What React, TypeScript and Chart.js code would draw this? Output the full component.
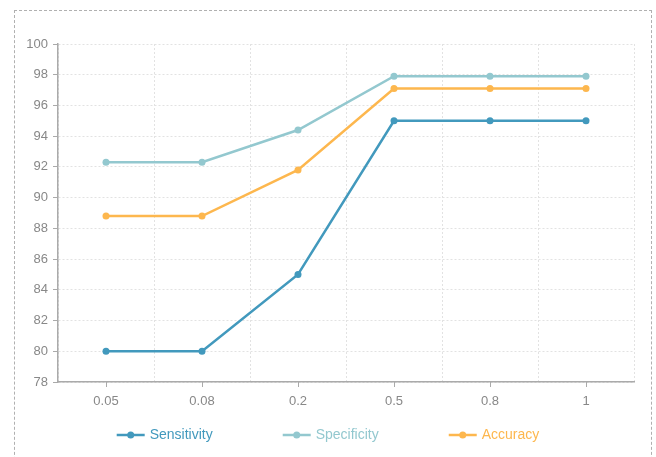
import React, { useEffect, useRef } from "react";
import { Chart, registerables } from "chart.js";

Chart.register(...registerables);

const categories = ["0.05", "0.08", "0.2", "0.5", "0.8", "1"];
const sensitivity = [80, 80, 85, 95, 95, 95];
const specificity = [92.3, 92.3, 94.4, 97.9, 97.9, 97.9];
const accuracy = [88.8, 88.8, 91.8, 97.1, 97.1, 97.1];
const seriesNames = ["Sensitivity", "Specificity", "Accuracy"];
const seriesColors = ["#4299bd", "#93c8cf", "#fdb74e"];

const FONT = "'Liberation Sans', Arial, sans-serif";

const customPlugin = {
  id: "customDecor",
  afterDraw(chart: any) {
    const ctx = chart.ctx;
    const xScale = chart.scales.x;
    ctx.save();
    ctx.strokeStyle = "#aaaaaa";
    ctx.lineWidth = 1;
    for (let i = 0; i < categories.length; i++) {
      const x = Math.round(xScale.getPixelForValue(i)) + 0.5;
      ctx.beginPath();
      ctx.moveTo(x, xScale.top);
      ctx.lineTo(x, xScale.top + 5);
      ctx.stroke();
    }
    ctx.restore();

    const lineW = 28;
    const gapText = 5;
    const gapItem = 70;
    ctx.save();
    ctx.font = "14px " + FONT;
    const ds = chart.data.datasets;
    const widths = ds.map((d: any) => lineW + gapText + ctx.measureText(d.label).width);
    const total = widths.reduce((a: number, b: number) => a + b, 0) + gapItem * (ds.length - 1);
    let x = (chart.width - total) / 2;
    const y = 435;
    ds.forEach((d: any, i: number) => {
      const c = d.borderColor;
      ctx.strokeStyle = c;
      ctx.fillStyle = c;
      ctx.lineWidth = 2.5;
      ctx.beginPath();
      ctx.moveTo(x, y);
      ctx.lineTo(x + lineW, y);
      ctx.stroke();
      ctx.beginPath();
      ctx.arc(x + lineW / 2, y, 3.5, 0, Math.PI * 2);
      ctx.fill();
      ctx.textBaseline = "middle";
      ctx.textAlign = "left";
      ctx.fillText(d.label, x + lineW + gapText, y);
      x += widths[i] + gapItem;
    });
    ctx.restore();
  },
};

export default function App() {
  const ref = useRef<HTMLCanvasElement>(null);
  useEffect(() => {
    if (!ref.current) return;
    const series = [sensitivity, specificity, accuracy];
    const chart = new Chart(ref.current, {
      type: "line",
      data: {
        labels: categories,
        datasets: series.map((s, i) => ({
          label: seriesNames[i],
          data: s,
          borderColor: seriesColors[i],
          backgroundColor: seriesColors[i],
          pointBackgroundColor: seriesColors[i],
          pointBorderColor: seriesColors[i],
          borderWidth: 2.5,
          pointRadius: 3.5,
          pointBorderWidth: 0,
          tension: 0,
          fill: false,
        })),
      },
      options: {
        animation: false,
        responsive: false,
        devicePixelRatio: 1,
        layout: { padding: { left: 15, right: 22, top: 44, bottom: 45 } },
        plugins: {
          legend: { display: false },
          tooltip: { enabled: false },
        },
        scales: {
          x: {
            type: "category",
            offset: true,
            grid: { offset: true, color: "#e2e2e2", drawTicks: false, lineWidth: 1 },
            border: { display: true, color: "#aaaaaa", width: 1.5, dash: [2, 2] },
            ticks: { color: "#888888", font: { size: 13, family: FONT }, padding: 12 },
            afterFit: (s: any) => {
              s.height = 30;
            },
          },
          y: {
            min: 78,
            max: 100,
            grid: { color: "#e2e2e2", tickLength: 5, tickColor: "#aaaaaa", lineWidth: 1 },
            border: { display: true, color: "#aaaaaa", width: 1.5, dash: [2, 2] },
            ticks: { stepSize: 2, color: "#888888", font: { size: 13, family: FONT }, padding: 5 },
            afterFit: (s: any) => {
              s.width = 43;
            },
          },
        },
      },
      plugins: [customPlugin],
    });
    return () => chart.destroy();
  }, []);

  return (
    <div>
      <div
        style={{
          position: "fixed",
          left: 14,
          top: 10,
          width: 638,
          height: 470,
          border: "1px dashed #b0b0b0",
          boxSizing: "border-box",
        }}
      />
      <canvas
        ref={ref}
        width={656}
        height={457}
        style={{ position: "fixed", left: 0, top: 0, width: 656, height: 457 }}
      />
    </div>
  );
}
